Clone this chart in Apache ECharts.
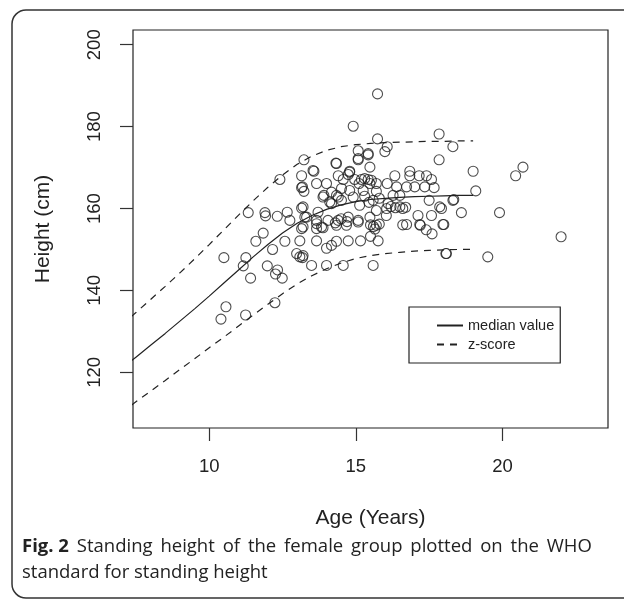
<!DOCTYPE html>
<html>
<head>
<meta charset="utf-8">
<script src="https://cdn.jsdelivr.net/npm/echarts@6/dist/echarts.min.js"></script>
<style>
html,body{margin:0;padding:0;background:#fff;}
#chart{width:624px;height:599px;}
</style>
</head>
<body>
<div id="chart"></div>
<script>
// WHO reference curves
const curveAges = [7,7.5,8,8.5,9,9.5,10,10.5,11,11.5,12,12.5,13,13.5,14,14.5,15,15.5,16,16.5,17,17.5,18,18.5,19];
const medianValues = [120.8,123.7,126.6,129.5,132.5,135.5,138.6,141.8,145.0,148.2,151.2,154.0,156.4,158.3,159.8,160.9,161.7,162.2,162.5,162.7,162.9,163.0,163.1,163.2,163.2];
const upperValues = [131.5,134.6,137.8,141.0,144.3,147.7,151.2,154.8,158.4,161.9,165.2,168.2,170.8,172.8,174.2,175.1,175.6,175.9,176.1,176.2,176.3,176.4,176.4,176.5,176.5];
const lowerValues = [110.1,112.8,115.4,118.0,120.7,123.3,126.0,128.6,131.3,134.0,136.6,139.2,141.6,143.6,145.3,146.7,147.8,148.5,149.0,149.3,149.6,149.8,149.9,150.0,150.0];

// Observed points: [age, height]
const girls = [
[10.4,133],[10.57,136],[11.24,134],[12.24,137],[10.5,148],[11.25,148],[11.16,146],[11.41,143],[12.49,143],[12.26,144],
[12.33,145],[11.98,146],[12.98,149],[13.09,148.2],[13.18,148],[12.16,150],[11.59,152],[11.84,154],[12.58,152],[13.09,152.1],
[13.66,152.1],[11.33,159],[11.9,159],[11.92,158.2],[12.32,158.1],[12.66,159.1],[12.75,157.1],[13.15,160.1],[13.32,157.9],[13.15,155.1],
[13.66,157.1],[13.66,155.1],[13.49,146.1],[12.41,167.1],[13.23,171.9],[13.15,168],[13.57,169.1],[13.15,165.1],[13.23,164.2],[13.66,166.1],
[15.74,188],[14.91,180.1],[15.74,177],[17.84,178.2],[18.31,175.1],[16.07,175.1],[15.99,173.9],[15.08,174.1],[15.42,173.1],[15.08,171.9],
[17.84,171.9],[14.32,171.1],[15.48,170.1],[14.79,169.1],[14.4,168],[14.74,168.3],[16.33,168],[16.84,169.1],[16.84,168],[17.16,168],
[17.41,168],[17.58,167.1],[14.0,166.1],[14.57,167.1],[14.96,167.1],[15.19,167.1],[15.3,167.3],[15.42,167.1],[15.53,166.9],[15.11,166.1],
[15.48,166.1],[15.7,166.1],[16.07,166.1],[16.39,165.3],[16.73,165.3],[17.01,165.3],[17.35,165.3],[17.67,165.1],[14.17,164],[14.51,164.9],
[14.79,164.4],[15.25,164.4],[15.7,164.2],[13.91,163.2],[14.34,163.2],[14.91,162.8],[16.27,163.2],[16.5,163.2],[17.5,162],[18.31,162],
[13.2,160.4],[14.17,161.2],[14.51,162],[15.13,160.8],[15.59,162],[16.1,161.2],[16.2,160.5],[16.35,160.2],[16.5,160.4],[16.6,160],
[16.7,160.3],[16.05,160],[17.86,160.4],[17.92,160],[13.26,157.9],[13.71,159.1],[14.05,157.1],[14.4,157.1],[14.74,157.9],[15.08,157.1],
[15.48,157.9],[16.04,158.3],[17.12,158.3],[17.58,158.3],[13.66,156.3],[13.83,155.5],[14.34,155.9],[14.68,155.9],[15.5,156],[15.6,155.6],
[15.7,155.9],[15.8,156.2],[16.73,156.1],[17.18,156.1],[17.97,156.1],[13.18,165.3],[13.54,169.3],[13.88,162.8],[14.11,161.6],[14.4,162.8],
[14.34,171],[14.79,168.9],[15.42,173.4],[15.08,172.2],[13.2,155.5],[13.88,155.3],[15.08,156.7],[15.65,155],[16.6,156],[17.2,155.9],
[17.4,154.8],[17.6,153.8],[18.0,156.1],[14.0,150.3],[14.17,151],[14.34,152],[14.74,152.1],[15.16,152.1],[15.5,153.2],[15.76,152.1],
[13.2,148.5],[14.0,146.1],[14.57,146.1],[15.59,146.1],[18.09,149],[19.0,169.1],[20.45,168],[20.7,170.1],[19.09,164.3],[18.34,162.2],
[18.6,159],[19.9,159],[22.0,153.1],[18.07,149],[19.5,148.2],[15.7,159.5],[14.3,156.5],[14.5,157.5],[14.7,156.8],[15.3,163],
[15.45,161.5],[15.8,162.5]
];

const xTicks = [10,15,20];
const yTicks = [120,140,160,180,200];

const zip = (xs, ys) => xs.map((x, i) => [x, ys[i]]);

const chart = echarts.init(document.getElementById('chart'), null, {renderer: 'canvas'});
const axisFont = 'Liberation Sans, Arial, Helvetica, sans-serif';
const capFont = 'Open Sans, sans-serif';
// caption line 1 is justified in the original: widen the word gaps slightly
const captionLine1 = ' Standing height of the female group plotted on the WHO'.replace(/ /g, ' \u2009');

chart.setOption({
  animation: false,
  backgroundColor: '#fff',
  grid: {left: 133, top: 30, right: 16, bottom: 171, show: true, borderColor: '#222', borderWidth: 1.2, backgroundColor: 'transparent'},
  xAxis: {
    type: 'value', min: 7.4, max: 23.6,
    name: 'Age (Years)', nameLocation: 'middle', nameGap: 80,
    nameTextStyle: {fontFamily: axisFont, fontSize: 21, color: '#222'},
    axisLine: {show: false},
    axisTick: {show: true, inside: false, length: 13, customValues: xTicks, lineStyle: {color: '#333', width: 1.2}},
    axisLabel: {show: true, customValues: xTicks, margin: 29, fontFamily: axisFont, fontSize: 18.5, color: '#222'},
    splitLine: {show: false}
  },
  yAxis: {
    type: 'value', min: 106.4, max: 203.6,
    name: 'Height (cm)', nameLocation: 'middle', nameGap: 79, nameRotate: 90,
    nameTextStyle: {fontFamily: axisFont, fontSize: 21, color: '#222'},
    axisLine: {show: false},
    axisTick: {show: true, inside: false, length: 13, customValues: yTicks, lineStyle: {color: '#333', width: 1.2}},
    axisLabel: {show: true, customValues: yTicks, rotate: 90, margin: 29, fontFamily: axisFont, fontSize: 18.5, color: '#222'},
    splitLine: {show: false}
  },
  legend: {
    orient: 'vertical', left: 409, top: 307,
    data: ['median value', 'z-score'],
    itemWidth: 26, itemHeight: 14, itemGap: 4,
    padding: [11, 6, 11, 27],
    borderColor: '#222', borderWidth: 1.2, backgroundColor: '#fff',
    itemStyle: {opacity: 0},
    textStyle: {fontFamily: axisFont, fontSize: 14.5, color: '#222'},
    selectedMode: false
  },
  series: [
    {type: 'scatter', name: 'obs', data: girls, symbol: 'circle', symbolSize: 10,
     itemStyle: {color: 'rgba(0,0,0,0)', borderColor: '#222', borderWidth: 1.1}, z: 3},
    {type: 'line', name: 'median value', data: zip(curveAges, medianValues), showSymbol: false, symbol: 'none',
     smooth: false, lineStyle: {color: '#222', width: 1.2, type: 'solid'}, itemStyle: {color: '#222'}, z: 2},
    {type: 'line', name: 'z-score', data: zip(curveAges, upperValues), showSymbol: false, symbol: 'none',
     smooth: false, lineStyle: {color: '#222', width: 1.2, type: [7, 6]}, itemStyle: {color: '#222'}, z: 2},
    {type: 'line', name: 'z-score', data: zip(curveAges, lowerValues), showSymbol: false, symbol: 'none',
     smooth: false, lineStyle: {color: '#222', width: 1.2, type: [7, 6]}, itemStyle: {color: '#222'}, z: 2}
  ],
  graphic: [
    {type: 'rect', shape: {x: 12, y: 10, width: 640, height: 588, r: 14}, style: {fill: 'none', stroke: '#333', lineWidth: 1.5}, silent: true, z: -1},
    {type: 'text', left: 22, top: 537, style: {
      text: '{b|Fig. 2}' + captionLine1,
      rich: {b: {fontWeight: 'bold', fontFamily: capFont, fontSize: 18.5, fill: '#222'}},
      fontFamily: capFont, fontSize: 18.5, fill: '#222'}},
    {type: 'text', left: 22, top: 563, style: {
      text: 'standard for standing height',
      fontFamily: capFont, fontSize: 18.5, fill: '#222'}}
  ]
});
</script>
</body>
</html>
